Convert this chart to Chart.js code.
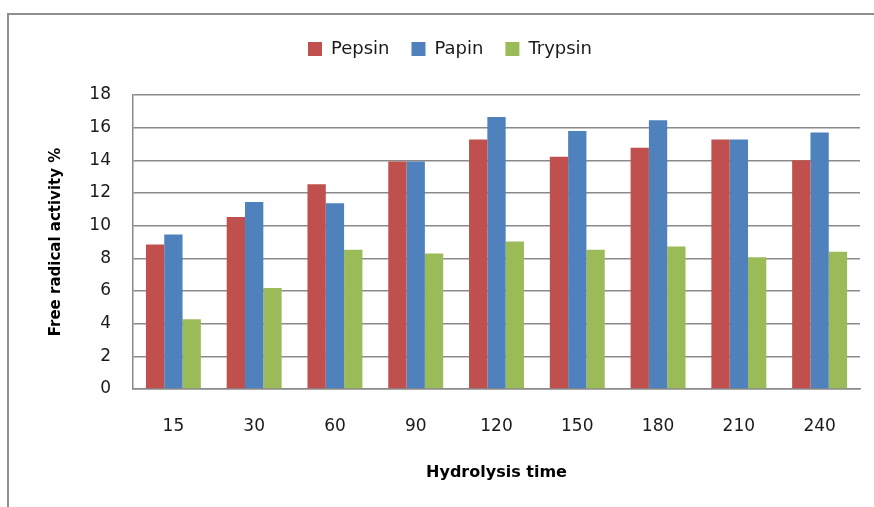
<!DOCTYPE html>
<html><head><meta charset="utf-8">
<script src="https://cdn.jsdelivr.net/npm/chart.js@4"></script>
<style>
html,body{margin:0;padding:0;background:#fff;}
#wrap{position:relative;width:874px;height:507px;overflow:hidden;}
#frame{position:absolute;left:7px;top:13px;width:900px;height:520px;border:2px solid #8f8f8f;box-sizing:border-box;}
canvas{position:absolute;left:0;top:0;}
</style>
</head><body><div id="wrap"><div id="frame"></div><canvas id="c" width="874" height="507"></canvas></div>
<script>
const categories = ['15','30','60','90','120','150','180','210','240'];
const pepsin  = [8.85, 10.53, 12.53, 13.93, 15.27, 14.22, 14.77, 15.27, 14.01];
const papin   = [9.46, 11.45, 11.37, 13.93, 16.66, 15.80, 16.45, 15.27, 15.70];
const trypsin = [4.27, 6.18, 8.52, 8.30, 9.03, 8.52, 8.72, 8.07, 8.40];
const seriesNames = ['Pepsin', 'Papin', 'Trypsin'];
const yTitle = 'Free radical activity %';
const xTitle = 'Hydrolysis time';

const FONT = "'DejaVu Sans', Verdana, sans-serif";
const colors = ['#C0504D', '#4F81BD', '#9BBB59'];
const data = {
  labels: categories,
  datasets: [pepsin, papin, trypsin].map((d, i) => ({
    label: seriesNames[i],
    data: d,
    backgroundColor: colors[i],
    borderWidth: 0,
    barPercentage: 1.0,
    categoryPercentage: 0.68
  }))
};
new Chart(document.getElementById('c'), {
  type: 'bar',
  data,
  options: {
    responsive: false,
    animation: false,
    layout: { padding: { left: 40, right: 14, top: 18, bottom: 0 } },
    plugins: {
      legend: {
        position: 'top',
        weight: 1000,
        labels: {
          font: { family: FONT, size: 18 },
          color: '#1a1a1a',
          boxWidth: 14, boxHeight: 14, padding: 22
        }
      },
      subtitle: {
        display: true,
        text: ' ',
        position: 'top',
        weight: 500,
        font: { family: FONT, size: 10, lineHeight: 1.2 },
        padding: { top: 15, bottom: 0 }
      },
      tooltip: { enabled: false }
    },
    scales: {
      x: {
        grid: { display: false, drawTicks: false },
        border: { display: true, color: '#8a8a8a', width: 1.5 },
        ticks: { font: { family: FONT, size: 17 }, color: '#1a1a1a', padding: 27, maxRotation: 0 },
        title: { display: true, text: xTitle, font: { family: FONT, size: 16, weight: 'bold' }, color: '#000', padding: { top: 0, bottom: 25 } },
        afterFit: s => { s.height = 118; }
      },
      y: {
        min: 0, max: 18,
        ticks: { stepSize: 2, font: { family: FONT, size: 17 }, color: '#1a1a1a', padding: 22 },
        grid: { color: '#8a8a8a', lineWidth: 1.5, drawTicks: false },
        border: { display: true, color: '#8a8a8a', width: 1.5 },
        title: { display: true, text: yTitle, font: { family: FONT, size: 15, weight: 'bold' }, color: '#000', padding: { top: 7, bottom: 0 } },
        afterFit: s => { s.width = 93; s.paddingTop = 95; }
      }
    }
  }
});
</script>
</body></html>
